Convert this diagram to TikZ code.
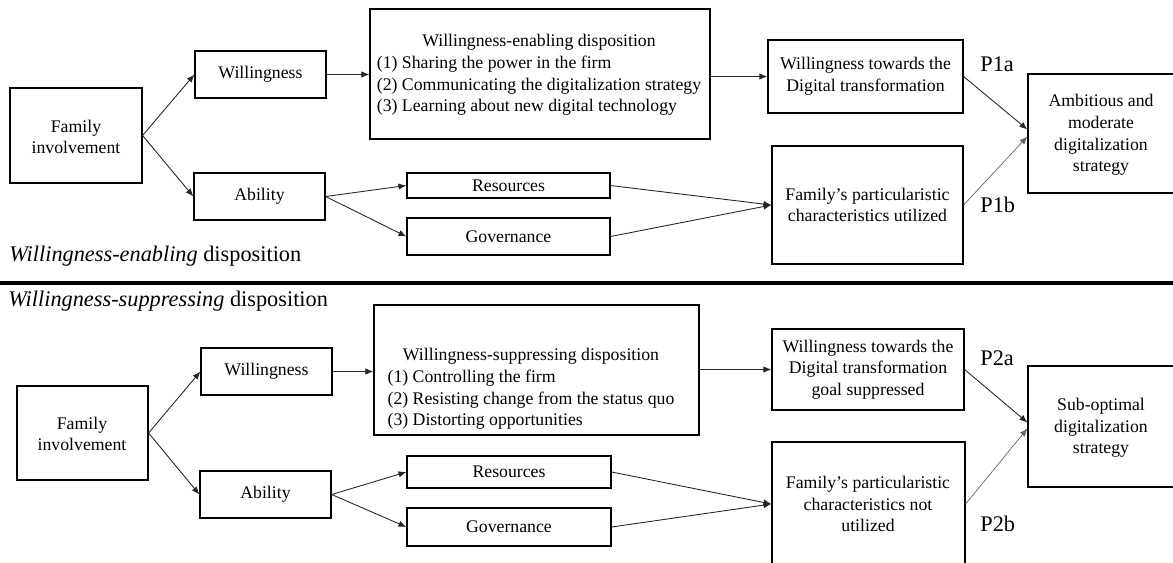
\documentclass[tikz,border=0pt]{standalone}
\usepackage{fontspec}
\setmainfont{Liberation Serif}
\usetikzlibrary{fit,calc,arrows.meta}
\begin{document}
\begin{tikzpicture}[x=0.02cm,y=-0.02cm,
  box/.style={draw, line width=0.7pt, inner sep=0pt},
  txt/.style={inner sep=0pt, align=center, font=\fontsize{10.1}{12.3}\selectfont},
  arr/.style={-{Latex[length=4.5pt,width=3.6pt]}, line width=0.5pt, black!85},
  arrl/.style={arr, black!60, line width=0.4pt},
  lbl/.style={font=\fontsize{12.7}{14}\selectfont, inner sep=0pt, anchor=base west}]
\useasboundingbox (0,0) rectangle (1173,562);
% ---------------- top half ----------------
\node[box, fit={(10,88)(142,183)}] (fi1) {};
\node[txt] (fi1t) at (76,137) {Family\\involvement};
\node[box, fit={(195,51)(326,98)}] (wi1) {};
\node[txt] (wi1t) at (wi1.center) {Willingness};
\node[box, fit={(194,173)(325,220)}] (ab1) {};
\node[txt] (ab1t) at (ab1.center) {Ability};
\node[box, fit={(370,9)(710,139)}] (we) {};
\node[txt] (wet) at (539,75) {\begin{tabular}{@{}l@{}}\multicolumn{1}{@{}c@{}}{Willingness-enabling disposition}\\(1) Sharing the power in the firm\\(2) Communicating the digitalization strategy\\(3) Learning about new digital technology\end{tabular}};
\node[box, fit={(407,173)(610,198)}] (re1) {};
\node[txt] (re1t) at (re1.center) {Resources};
\node[box, fit={(407,218)(610,255)}] (go1) {};
\node[txt] (go1t) at (go1.center) {Governance};
\node[box, fit={(768,40)(963,113)}] (wt1) {};
\node[txt] (wt1t) at (wt1.center) {Willingness towards the\\Digital transformation};
\node[box, fit={(772,146)(963,264)}] (fp1) {};
\node[txt] (fp1t) at (fp1.center) {Family’s particularistic\\characteristics utilized};
\node[box, fit={(1028,74)(1176,193)}] (am) {};
\node[txt] (amt) at (1101,135) {Ambitious and\\moderate\\digitalization\\strategy};
\node[lbl] (p1a) at (980,71) {P1a};
\node[lbl] (p1b) at (980,212) {P1b};
\node[lbl] (l1) at (9,261) {\textit{Willingness-enabling} disposition};

\draw[arr] (fi1.east) -- (wi1.west);
\draw[arr] (fi1.east) -- (ab1.west);
\draw[arr] (wi1.east) -- (wi1.east -| we.west);
\draw[arr] (ab1.east) -- (re1.west);
\draw[arr] (ab1.east) -- (go1.west);
\draw[arr] (we.east |- wt1.west) -- (wt1.west);
\draw[arr] (re1.east) -- (fp1.west);
\draw[arr] (go1.east) -- (fp1.west);
\draw[arr] (wt1.east) -- ($(am.west)+(0,-4)$);
\draw[arrl] (fp1.east) -- ($(am.west)+(0,3)$);

% separator
\coordinate (s1) at (0,283);
\coordinate (s2) at (1173,283);
\draw[line width=1.8pt] (s1) -- (s2);

% ---------------- bottom half ----------------
\node[lbl] (l2) at (8,306) {\textit{Willingness-suppressing} disposition};
\node[box, fit={(17,386)(148,480)}] (fi2) {};
\node[txt] (fi2t) at (82,434) {Family\\involvement};
\node[box, fit={(201,348)(332,395)}] (wi2) {};
\node[txt] (wi2t) at (wi2.center) {Willingness};
\node[box, fit={(200,471)(331,518)}] (ab2) {};
\node[txt] (ab2t) at (ab2.center) {Ability};
\node[box, fit={(374,305)(699,435)}] (ws) {};
\node[txt] (wst) at (531,389) {\begin{tabular}{@{}l@{}}\multicolumn{1}{@{}c@{}}{Willingness-suppressing disposition}\\(1) Controlling the firm\\(2) Resisting change from the status quo\\(3) Distorting opportunities\end{tabular}};
\node[box, fit={(407,456)(611,488)}] (re2) {};
\node[txt] (re2t) at (re2.center) {Resources};
\node[box, fit={(407,508)(611,546)}] (go2) {};
\node[txt] (go2t) at (go2.center) {Governance};
\node[box, fit={(772,329)(964,410)}] (wt2) {};
\node[txt] (wt2t) at (wt2.center) {Willingness towards the\\Digital transformation\\goal suppressed};
\node[box, fit={(772,442)(965,566)}] (fp2) {};
\node[txt] (fp2t) at (868,504) {Family’s particularistic\\characteristics not\\utilized};
\node[box, fit={(1028,366)(1176,487)}] (so) {};
\node[txt] (sot) at (1101,428) {Sub-optimal\\digitalization\\strategy};
\node[lbl] (p2a) at (980,365) {P2a};
\node[lbl] (p2b) at (980,531) {P2b};

\draw[arr] (fi2.east) -- (wi2.west);
\draw[arr] (fi2.east) -- (ab2.west);
\draw[arr] (wi2.east) -- (wi2.east -| ws.west);
\draw[arr] (ab2.east) -- (re2.west);
\draw[arr] (ab2.east) -- (go2.west);
\draw[arr] (ws.east |- wt2.west) -- (wt2.west);
\draw[arr] (re2.east) -- (fp2.west);
\draw[arr] (go2.east) -- (fp2.west);
\draw[arr] (wt2.east) -- ($(so.west)+(0,-4)$);
\draw[arrl] (fp2.east) -- ($(so.west)+(0,2)$);
\end{tikzpicture}
\end{document}
